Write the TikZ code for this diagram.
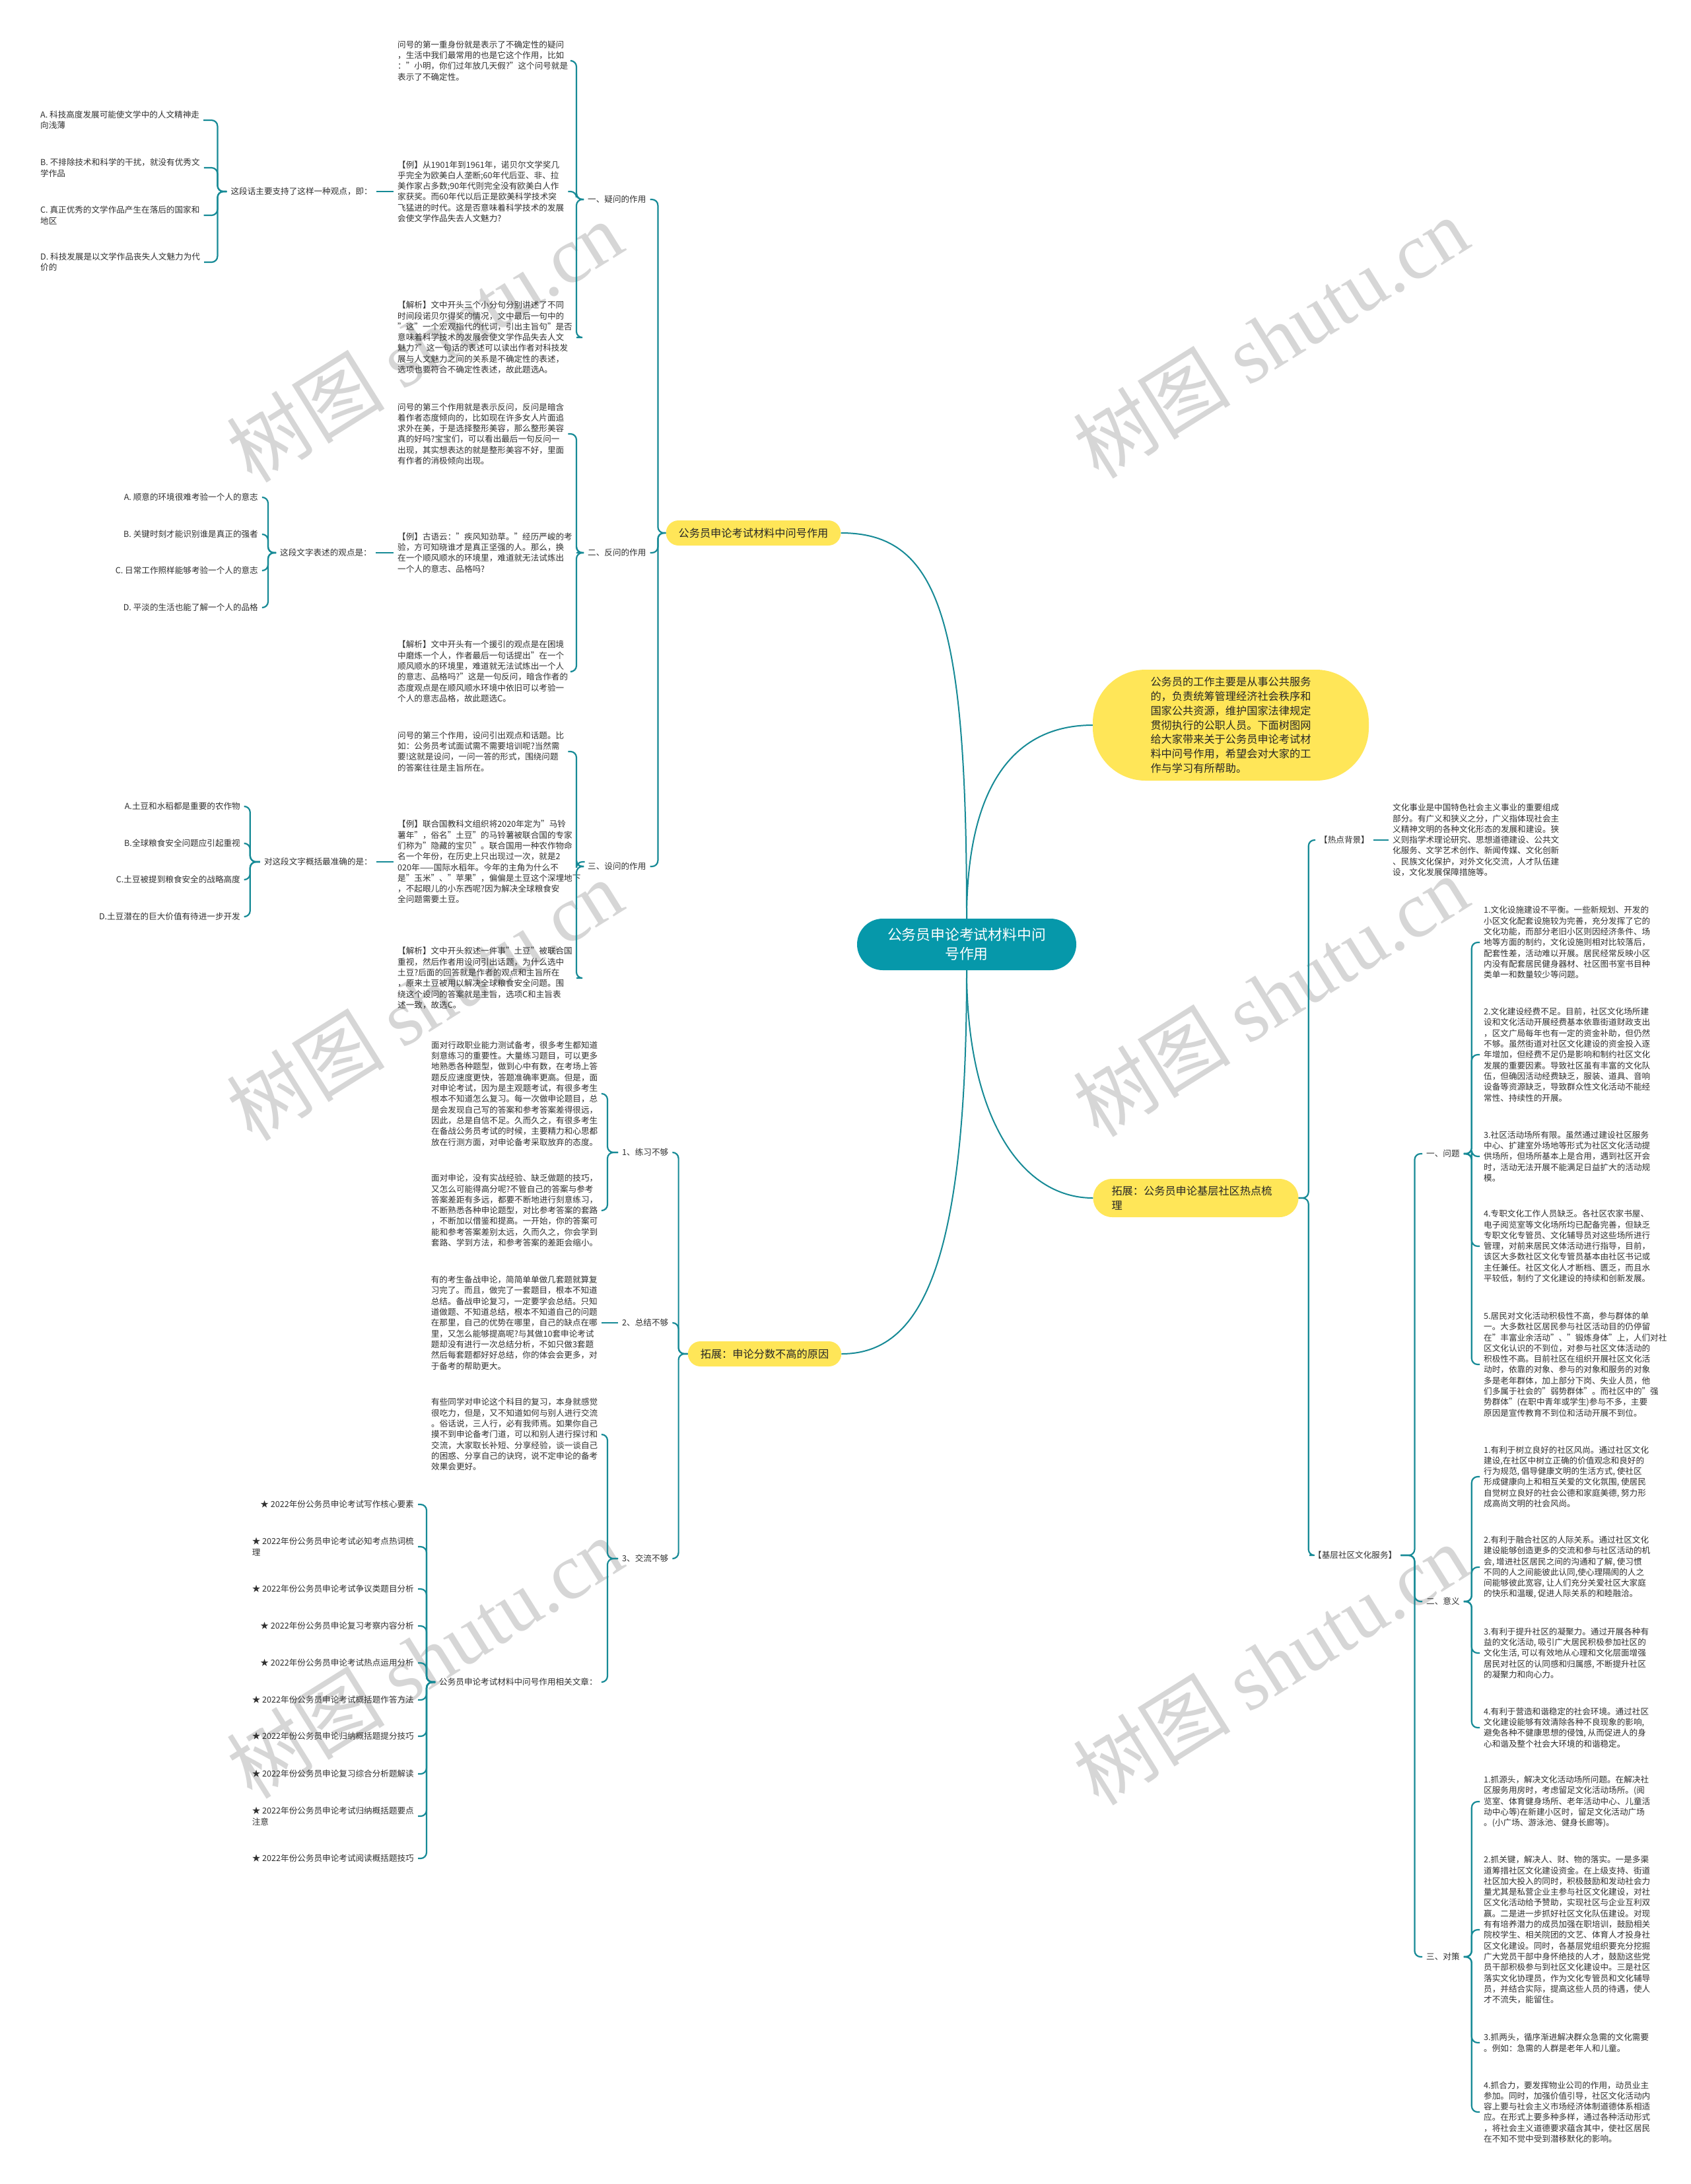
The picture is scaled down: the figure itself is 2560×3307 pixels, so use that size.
\documentclass[tikz,border=0pt]{standalone}
\usepackage{fontspec}
\setmainfont{Noto Sans CJK SC}
\newfontfamily\wmlatin{Liberation Serif}
\usepackage{xcolor}
\usepackage{tikz}
\usetikzlibrary{positioning}

\definecolor{linec}{RGB}{22,138,150}
\definecolor{rootc}{RGB}{6,152,170}
\definecolor{yellowc}{RGB}{255,230,88}
\definecolor{textc}{RGB}{48,48,48}
\definecolor{wmc}{RGB}{214,214,214}

\begin{document}
\begin{tikzpicture}[x=1pt, y=-1pt]

	% Styles
	\tikzset{
		rootnode/.style={
			rectangle, fill=rootc, rounded corners=39pt,
			minimum width=332pt, minimum height=78pt,
			align=center, text=white, font=\fontsize{21.8}{28.7}\selectfont
		},
		topic/.style={
			rectangle, fill=yellowc, rounded corners=19pt,
			minimum height=38pt, inner xsep=19pt,
			align=left, text=black!85, font=\fontsize{16.2}{21.5}\selectfont
		},
		intronode/.style={
			rectangle, fill=yellowc, rounded corners=80pt,
			minimum width=418pt, minimum height=168pt,
			align=left, text=black!85, font=\fontsize{16.2}{21.8}\selectfont
		},
		branch/.style={
			inner xsep=6pt, inner ysep=2pt,
			text=textc, font=\fontsize{12.6}{16.3}\selectfont
		},
		para/.style={branch, align=left},
		link/.style={draw=linec, line width=2.2pt, rounded corners=9pt},
		mainlink/.style={draw=linec, line width=2pt},
		wmark/.style={text=wmc, rotate=32, font=\fontsize{120}{120}\selectfont}
	}

	% Page
	\path[use as bounding box, fill=white] (0,0) rectangle (2560,3307);

	% Watermarks
	\node[wmark] (wm1) at (643,517) {树图 {\wmlatin shutu.cn}};
	\node[wmark] (wm2) at (1924,511) {树图 {\wmlatin shutu.cn}};
	\node[wmark] (wm3) at (643,1514) {树图 {\wmlatin shutu.cn}};
	\node[wmark] (wm4) at (1924,1508) {树图 {\wmlatin shutu.cn}};
	\node[wmark] (wm5) at (643,2510) {树图 {\wmlatin shutu.cn}};
	\node[wmark] (wm6) at (1924,2520) {树图 {\wmlatin shutu.cn}};

	% Root
	\node[rootnode] (root) at (1464,1430) {公务员申论考试材料中问\\号作用};

	% Intro
	\node[intronode] (intro) at (1864,1098) {公务员的工作主要是从事公共服务\\的，负责统筹管理经济社会秩序和\\国家公共资源，维护国家法律规定\\贯彻执行的公职人员。下面树图网\\给大家带来关于公务员申论考试材\\料中问号作用，希望会对大家的工\\作与学习有所帮助。};

	% Topic: question marks
	\node[topic] (qmark) at (1141,807) {公务员申论考试材料中问号作用};
	\node[branch, anchor=west] (doubt) at (884,302) {一、疑问的作用};
	\node[branch, anchor=west] (rhet) at (884,837) {二、反问的作用};
	\node[branch, anchor=west] (setq) at (884,1312) {三、设问的作用};

	% Doubt
	\node[para, anchor=west] (y1) at (596,92) {问号的第一重身份就是表示了不确定性的疑问\\，生活中我们最常用的也是它这个作用，比如\\："小明，你们过年放几天假?"这个问号就是\\表示了不确定性。};
	\node[para, anchor=west] (y2) at (596,290) {【例】从1901年到1961年，诺贝尔文学奖几\\乎完全为欧美白人垄断;60年代后亚、非、拉\\美作家占多数;90年代则完全没有欧美白人作\\家获奖。而60年代以后正是欧美科学技术突\\飞猛进的时代。这是否意味着科学技术的发展\\会使文学作品失去人文魅力?};
	\node[para, anchor=west] (y3) at (596,511) {【解析】文中开头三个小分句分别讲述了不同\\时间段诺贝尔得奖的情况，文中最后一句中的\\"这"一个宏观指代的代词，引出主旨句"是否\\意味着科学技术的发展会使文学作品失去人文\\魅力?"这一句话的表述可以读出作者对科技发\\展与人文魅力之间的关系是不确定性的表述，\\选项也要符合不确定性表述，故此题选A。};
	\node[branch, left=26pt of y2] (yq) {这段话主要支持了这样一种观点，即：};
	\node[para, anchor=west] (yA) at (55,182) {A. 科技高度发展可能使文学中的人文精神走\\向浅薄};
	\node[para, anchor=west] (yB) at (55,254) {B. 不排除技术和科学的干扰，就没有优秀文\\学作品};
	\node[para, anchor=west] (yC) at (55,326) {C. 真正优秀的文学作品产生在落后的国家和\\地区};
	\node[para, anchor=west] (yD) at (55,397) {D. 科技发展是以文学作品丧失人文魅力为代\\价的};

	% Rhetorical
	\node[para, anchor=west] (f1) at (596,657) {问号的第三个作用就是表示反问，反问是暗含\\着作者态度倾向的，比如现在许多女人片面追\\求外在美，于是选择整形美容，那么整形美容\\真的好吗?宝宝们，可以看出最后一句反问一\\出现，其实想表达的就是整形美容不好，里面\\有作者的消极倾向出现。};
	\node[para, anchor=west] (f2) at (596,837) {【例】古语云："疾风知劲草。"经历严峻的考\\验，方可知晓谁才是真正坚强的人。那么，换\\在一个顺风顺水的环境里，难道就无法试炼出\\一个人的意志、品格吗?};
	\node[para, anchor=west] (f3) at (596,1017) {【解析】文中开头有一个援引的观点是在困境\\中磨炼一个人，作者最后一句话提出"在一个\\顺风顺水的环境里，难道就无法试炼出一个人\\的意志、品格吗?"这是一句反问，暗含作者的\\态度观点是在顺风顺水环境中依旧可以考验一\\个人的意志品格，故此题选C。};
	\node[branch, left=27pt of f2] (fq) {这段文字表述的观点是：};
	\node[branch, anchor=east] (fA) at (397,753) {A. 顺意的环境很难考验一个人的意志};
	\node[branch, anchor=east] (fB) at (397,809) {B. 关键时刻才能识别谁是真正的强者};
	\node[branch, anchor=east] (fC) at (397,864) {C. 日常工作照样能够考验一个人的意志};
	\node[branch, anchor=east] (fD) at (397,920) {D. 平淡的生活也能了解一个人的品格};

	% Set question
	\node[para, anchor=west] (s1) at (596,1138) {问号的第三个作用，设问引出观点和话题。比\\如：公务员考试面试需不需要培训呢?当然需\\要!这就是设问，一问一答的形式，围绕问题\\的答案往往是主旨所在。};
	\node[para, anchor=west] (s2) at (596,1305) {【例】联合国教科文组织将2020年定为"马铃\\薯年"，俗名"土豆"的马铃薯被联合国的专家\\们称为"隐藏的宝贝"。联合国用一种农作物命\\名一个年份，在历史上只出现过一次，就是2\\020年——国际水稻年。今年的主角为什么不\\是"玉米"、"苹果"，偏偏是土豆这个深埋地下\\，不起眼儿的小东西呢?因为解决全球粮食安\\全问题需要土豆。};
	\node[para, anchor=west] (s3) at (596,1481) {【解析】文中开头叙述一件事"土豆"被联合国\\重视，然后作者用设问引出话题，为什么选中\\土豆?后面的回答就是作者的观点和主旨所在\\，原来土豆被用以解决全球粮食安全问题。围\\绕这个设问的答案就是主旨，选项C和主旨表\\述一致，故选C。};
	\node[branch, left=26pt of s2] (sq) {对这段文字概括最准确的是：};
	\node[branch, anchor=east] (sA) at (370,1221) {A.土豆和水稻都是重要的农作物};
	\node[branch, anchor=east] (sB) at (370,1277) {B.全球粮食安全问题应引起重视};
	\node[branch, anchor=east] (sC) at (370,1332) {C.土豆被提到粮食安全的战略高度};
	\node[branch, anchor=east] (sD) at (370,1388) {D.土豆潜在的巨大价值有待进一步开发};

	% Topic: low scores
	\node[topic] (low) at (1158,2050) {拓展：申论分数不高的原因};
	\node[branch, anchor=west] (lx1) at (936,1745) {1、练习不够};
	\node[branch, anchor=west] (lx2) at (936,2003) {2、总结不够};
	\node[branch, anchor=west] (lx3) at (936,2360) {3、交流不够};
	\node[para, anchor=west] (lx1a) at (647,1656) {面对行政职业能力测试备考，很多考生都知道\\刻意练习的重要性。大量练习题目，可以更多\\地熟悉各种题型，做到心中有数，在考场上答\\题反应速度更快，答题准确率更高。但是，面\\对申论考试，因为是主观题考试，有很多考生\\根本不知道怎么复习。每一次做申论题目，总\\是会发现自己写的答案和参考答案差得很远，\\因此，总是自信不足。久而久之，有很多考生\\在备战公务员考试的时候，主要精力和心思都\\放在行测方面，对申论备考采取放弃的态度。};
	\node[para, anchor=west] (lx1b) at (647,1833) {面对申论，没有实战经验、缺乏做题的技巧，\\又怎么可能得高分呢?不管自己的答案与参考\\答案差距有多远，都要不断地进行刻意练习，\\不断熟悉各种申论题型，对比参考答案的套路\\，不断加以借鉴和提高。一开始，你的答案可\\能和参考答案差别太远，久而久之，你会学到\\套路、学到方法，和参考答案的差距会缩小。};
	\node[para, left=25pt of lx2] (zj) {有的考生备战申论，简简单单做几套题就算复\\习完了。而且，做完了一套题目，根本不知道\\总结。备战申论复习，一定要学会总结。只知\\道做题、不知道总结，根本不知道自己的问题\\在那里，自己的优势在哪里，自己的缺点在哪\\里，又怎么能够提高呢?与其做10套申论考试\\题却没有进行一次总结分析，不如只做3套题\\然后每套题都好好总结，你的体会会更多，对\\于备考的帮助更大。};
	\node[para, anchor=west] (jl) at (647,2172) {有些同学对申论这个科目的复习，本身就感觉\\很吃力，但是，又不知道如何与别人进行交流\\。俗话说，三人行，必有我师焉。如果你自己\\摸不到申论备考门道，可以和别人进行探讨和\\交流，大家取长补短、分享经验，谈一谈自己\\的困惑、分享自己的诀窍，说不定申论的备考\\效果会更好。};
	\node[branch, anchor=west] (rel) at (659,2547) {公务员申论考试材料中问号作用相关文章：};
	\node[para, anchor=east] (art1) at (633,2278) {★ 2022年份公务员申论考试写作核心要素};
	\node[para, anchor=east] (art2) at (633,2342) {★ 2022年份公务员申论考试必知考点热词梳\\理};
	\node[para, anchor=east] (art3) at (633,2406) {★ 2022年份公务员申论考试争议类题目分析};
	\node[para, anchor=east] (art4) at (633,2462) {★ 2022年份公务员申论复习考察内容分析};
	\node[para, anchor=east] (art5) at (633,2518) {★ 2022年份公务员申论考试热点运用分析};
	\node[para, anchor=east] (art6) at (633,2574) {★ 2022年份公务员申论考试概括题作答方法};
	\node[para, anchor=east] (art7) at (633,2629) {★ 2022年份公务员申论归纳概括题提分技巧};
	\node[para, anchor=east] (art8) at (633,2686) {★ 2022年份公务员申论复习综合分析题解读};
	\node[para, anchor=east] (art9) at (633,2750) {★ 2022年份公务员申论考试归纳概括题要点\\注意};
	\node[para, anchor=east] (art10) at (633,2814) {★ 2022年份公务员申论考试阅读概括题技巧};

	% Topic: community culture
	\node[topic, text width=255pt, inner xsep=28pt, minimum height=58pt, rounded corners=29pt] (hotnode) at (1811,1814) {拓展：公务员申论基层社区热点梳\\理};
	\node[branch, anchor=west] (bg) at (1992,1272) {【热点背景】};
	\node[para, right=23pt of bg] (bgtxt) {文化事业是中国特色社会主义事业的重要组成\\部分。有广义和狭义之分，广义指体现社会主\\义精神文明的各种文化形态的发展和建设。狭\\义则指学术理论研究、思想道德建设、公共文\\化服务、文学艺术创作、新闻传媒、文化创新\\、民族文化保护，对外文化交流，人才队伍建\\设，文化发展保障措施等。};
	\node[branch, anchor=west] (base) at (1983,2355) {【基层社区文化服务】};
	\node[branch, anchor=west] (wt) at (2154,1747) {一、问题};
	\node[branch, anchor=west] (yy) at (2154,2425) {二、意义};
	\node[branch, anchor=west] (dc) at (2154,2963) {三、对策};

	% Problems
	\node[para, anchor=west] (wt1) at (2241,1427) {1.文化设施建设不平衡。一些新规划、开发的\\小区文化配套设施较为完善，充分发挥了它的\\文化功能，而部分老旧小区则因经济条件、场\\地等方面的制约，文化设施则相对比较落后，\\配套性差，活动难以开展。居民经常反映小区\\内没有配套居民健身器材、社区图书室书目种\\类单一和数量较少等问题。};
	\node[para, anchor=west] (wt2) at (2241,1597) {2.文化建设经费不足。目前，社区文化场所建\\设和文化活动开展经费基本依靠街道财政支出\\，区文广局每年也有一定的资金补助，但仍然\\不够。虽然街道对社区文化建设的资金投入逐\\年增加，但经费不足仍是影响和制约社区文化\\发展的重要因素。导致社区虽有丰富的文化队\\伍，但确因活动经费缺乏，服装、道具、音响\\设备等资源缺乏，导致群众性文化活动不能经\\常性、持续性的开展。};
	\node[para, anchor=west] (wt3) at (2241,1751) {3.社区活动场所有限。虽然通过建设社区服务\\中心、扩建室外场地等形式为社区文化活动提\\供场所，但场所基本上是合用，遇到社区开会\\时，活动无法开展不能满足日益扩大的活动规\\模。};
	\node[para, anchor=west] (wt4) at (2241,1887) {4.专职文化工作人员缺乏。各社区农家书屋、\\电子阅览室等文化场所均已配备完善，但缺乏\\专职文化专管员、文化辅导员对这些场所进行\\管理，对前来居民文体活动进行指导，目前，\\该区大多数社区文化专管员基本由社区书记或\\主任兼任。社区文化人才断档、匮乏，而且水\\平较低，制约了文化建设的持续和创新发展。};
	\node[para, anchor=west] (wt5) at (2241,2066) {5.居民对文化活动积极性不高，参与群体的单\\一。大多数社区居民参与社区活动目的仍停留\\在"丰富业余活动"、"锻炼身体"上，人们对社\\区文化认识的不到位，对参与社区文体活动的\\积极性不高。目前社区在组织开展社区文化活\\动时，依靠的对象、参与的对象和服务的对象\\多是老年群体，加上部分下岗、失业人员，他\\们多属于社会的"弱势群体"。而社区中的"强\\势群体"(在职中青年或学生)参与不多，主要\\原因是宣传教育不到位和活动开展不到位。};

	% Meaning
	\node[para, anchor=west] (yy1) at (2241,2236) {1.有利于树立良好的社区风尚。通过社区文化\\建设,在社区中树立正确的价值观念和良好的\\行为规范, 倡导健康文明的生活方式, 使社区\\形成健康向上和相互关爱的文化氛围, 使居民\\自觉树立良好的社会公德和家庭美德, 努力形\\成高尚文明的社会风尚。};
	\node[para, anchor=west] (yy2) at (2241,2373) {2.有利于融合社区的人际关系。通过社区文化\\建设能够创造更多的交流和参与社区活动的机\\会, 增进社区居民之间的沟通和了解, 使习惯\\不同的人之间能彼此认同,使心理隔阂的人之\\间能够彼此宽容, 让人们充分关爱社区大家庭\\的快乐和温暖, 促进人际关系的和睦融洽。};
	\node[para, anchor=west] (yy3) at (2241,2503) {3.有利于提升社区的凝聚力。通过开展各种有\\益的文化活动, 吸引广大居民积极参加社区的\\文化生活, 可以有效地从心理和文化层面增强\\居民对社区的认同感和归属感, 不断提升社区\\的凝聚力和向心力。};
	\node[para, anchor=west] (yy4) at (2241,2616) {4.有利于营造和谐稳定的社会环境。通过社区\\文化建设能够有效清除各种不良现象的影响,\\避免各种不健康思想的侵蚀, 从而促进人的身\\心和谐及整个社会大环境的和谐稳定。};

	% Measures
	\node[para, anchor=west] (dc1) at (2241,2728) {1.抓源头，解决文化活动场所问题。在解决社\\区服务用房时，考虑留足文化活动场所。(阅\\览室、体育健身场所、老年活动中心、儿童活\\动中心等)在新建小区时，留足文化活动广场\\。(小广场、游泳池、健身长廊等)。};
	\node[para, anchor=west] (dc2) at (2241,2922) {2.抓关键，解决人、财、物的落实。一是多渠\\道筹措社区文化建设资金。在上级支持、街道\\社区加大投入的同时，积极鼓励和发动社会力\\量尤其是私营企业主参与社区文化建设，对社\\区文化活动给予赞助，实现社区与企业互利双\\赢。二是进一步抓好社区文化队伍建设。对现\\有有培养潜力的成员加强在职培训，鼓励相关\\院校学生、相关院团的文艺、体育人才投身社\\区文化建设。同时，各基层党组织要充分挖掘\\广大党员干部中身怀绝技的人才，鼓励这些党\\员干部积极参与到社区文化建设中。三是社区\\落实文化协理员，作为文化专管员和文化辅导\\员，并结合实际，提高这些人员的待遇，使人\\才不流失，能留住。};
	\node[para, anchor=west] (dc3) at (2241,3093) {3.抓两头，循序渐进解决群众急需的文化需要\\。例如：急需的人群是老年人和儿童。};
	\node[para, anchor=west] (dc4) at (2241,3198) {4.抓合力，要发挥物业公司的作用，动员业主\\参加。同时，加强价值引导，社区文化活动内\\容上要与社会主义市场经济体制道德体系相适\\应。在形式上要多种多样，通过各种活动形式\\，将社会主义道德要求蕴含其中，使社区居民\\在不知不觉中受到潜移默化的影响。};

	% Links: root to topics
	\draw[mainlink] (qmark.east) .. controls +(150,0) and +(0,-450) .. (root.north);
	\draw[mainlink] (intro.west) .. controls +(-120,0) and +(0,-200) .. (root.north);
	\draw[mainlink] (root.south) .. controls +(0,450) and +(120,0) .. (low.east);
	\draw[mainlink] (root.south) .. controls +(0,220) and +(-110,0) .. (hotnode.west);

	% Links: question marks
	\draw[link] (qmark.west) -- ++(-12,0) |- (doubt.east);
	\draw[link] (qmark.west) -- ++(-12,0) |- (rhet.east);
	\draw[link] (qmark.west) -- ++(-12,0) |- (setq.east);
	\draw[link] (doubt.west) -- ++(-11,0) |- (y1.east);
	\draw[link] (doubt.west) -- ++(-11,0) |- (y2.east);
	\draw[link] (doubt.west) -- ++(-11,0) |- (y3.east);
	\draw[link] (y2.west) -- (yq.east);
	\draw[link] (yq.west) -- ++(-14,0) |- (yA.east);
	\draw[link] (yq.west) -- ++(-14,0) |- (yB.east);
	\draw[link] (yq.west) -- ++(-14,0) |- (yC.east);
	\draw[link] (yq.west) -- ++(-14,0) |- (yD.east);
	\draw[link] (rhet.west) -- ++(-11,0) |- (f1.east);
	\draw[link] (rhet.west) -- ++(-11,0) |- (f2.east);
	\draw[link] (rhet.west) -- ++(-11,0) |- (f3.east);
	\draw[link] (f2.west) -- (fq.east);
	\draw[link] (fq.west) -- ++(-12,0) |- (fA.east);
	\draw[link] (fq.west) -- ++(-12,0) |- (fB.east);
	\draw[link] (fq.west) -- ++(-12,0) |- (fC.east);
	\draw[link] (fq.west) -- ++(-12,0) |- (fD.east);
	\draw[link] (setq.west) -- ++(-11,0) |- (s1.east);
	\draw[link] (setq.west) -- ++(-11,0) |- (s2.east);
	\draw[link] (setq.west) -- ++(-11,0) |- (s3.east);
	\draw[link] (s2.west) -- (sq.east);
	\draw[link] (sq.west) -- ++(-15,0) |- (sA.east);
	\draw[link] (sq.west) -- ++(-15,0) |- (sB.east);
	\draw[link] (sq.west) -- ++(-15,0) |- (sC.east);
	\draw[link] (sq.west) -- ++(-15,0) |- (sD.east);

	% Links: low scores
	\draw[link] (low.west) -- ++(-14,0) |- (lx1.east);
	\draw[link] (low.west) -- ++(-14,0) |- (lx2.east);
	\draw[link] (low.west) -- ++(-14,0) |- (lx3.east);
	\draw[link] (lx1.west) -- ++(-16,0) |- (lx1a.east);
	\draw[link] (lx1.west) -- ++(-16,0) |- (lx1b.east);
	\draw[link] (lx2.west) -- (zj.east);
	\draw[link] (lx3.west) -- ++(-16,0) |- (jl.east);
	\draw[link] (lx3.west) -- ++(-16,0) |- (rel.east);
	\draw[link] (rel.west) -- ++(-13,0) |- (art1.east);
	\draw[link] (rel.west) -- ++(-13,0) |- (art2.east);
	\draw[link] (rel.west) -- ++(-13,0) |- (art3.east);
	\draw[link] (rel.west) -- ++(-13,0) |- (art4.east);
	\draw[link] (rel.west) -- ++(-13,0) |- (art5.east);
	\draw[link] (rel.west) -- ++(-13,0) |- (art6.east);
	\draw[link] (rel.west) -- ++(-13,0) |- (art7.east);
	\draw[link] (rel.west) -- ++(-13,0) |- (art8.east);
	\draw[link] (rel.west) -- ++(-13,0) |- (art9.east);
	\draw[link] (rel.west) -- ++(-13,0) |- (art10.east);

	% Links: community culture
	\draw[link] (hotnode.east) -- ++(15,0) |- (bg.west);
	\draw[link] (hotnode.east) -- ++(15,0) |- (base.west);
	\draw[link] (bg.east) -- (bgtxt.west);
	\draw[link] (base.east) -- ++(21,0) |- (wt.west);
	\draw[link] (base.east) -- ++(21,0) |- (yy.west);
	\draw[link] (base.east) -- ++(21,0) |- (dc.west);
	\draw[link] (wt.east) -- ++(12,0) |- (wt1.west);
	\draw[link] (wt.east) -- ++(12,0) |- (wt2.west);
	\draw[link] (wt.east) -- ++(12,0) |- (wt3.west);
	\draw[link] (wt.east) -- ++(12,0) |- (wt4.west);
	\draw[link] (wt.east) -- ++(12,0) |- (wt5.west);
	\draw[link] (yy.east) -- ++(12,0) |- (yy1.west);
	\draw[link] (yy.east) -- ++(12,0) |- (yy2.west);
	\draw[link] (yy.east) -- ++(12,0) |- (yy3.west);
	\draw[link] (yy.east) -- ++(12,0) |- (yy4.west);
	\draw[link] (dc.east) -- ++(12,0) |- (dc1.west);
	\draw[link] (dc.east) -- ++(12,0) |- (dc2.west);
	\draw[link] (dc.east) -- ++(12,0) |- (dc3.west);
	\draw[link] (dc.east) -- ++(12,0) |- (dc4.west);

\end{tikzpicture}
\end{document}
